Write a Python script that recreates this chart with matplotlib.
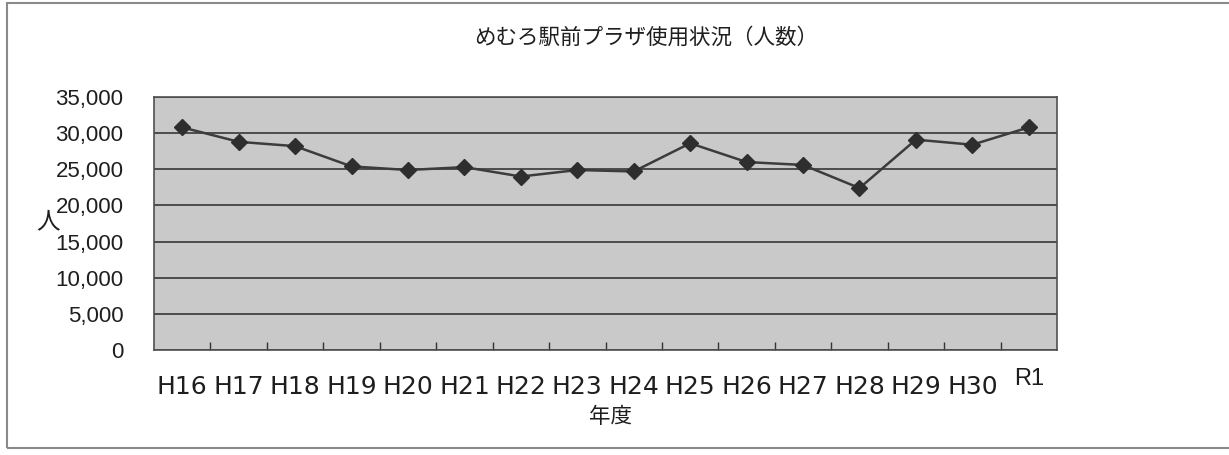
import numpy as np
import matplotlib
matplotlib.use("Agg")
import matplotlib.pyplot as plt
from matplotlib.patches import Rectangle
from matplotlib.ticker import FuncFormatter, FixedLocator
from matplotlib.transforms import ScaledTranslation

# 年度別の利用人数
years = ["H16", "H17", "H18", "H19", "H20", "H21", "H22", "H23",
         "H24", "H25", "H26", "H27", "H28", "H29", "H30", "R1"]
visitors = [30800, 28800, 28200, 25400, 24900, 25300, 24000, 24900,
            24700, 28600, 26000, 25600, 22400, 29100, 28400, 30800]
y_ticks = [0, 5000, 10000, 15000, 20000, 25000, 30000, 35000]

title = "めむろ駅前プラザ使用状況（人数）"
x_title = "年度"
y_title = "人"

W, H = 1229, 455
fig = plt.figure(figsize=(W / 100, H / 100), dpi=100)
fig.patch.set_facecolor("white")

jp = ["Noto Sans CJK JP", "DejaVu Sans"]
txt = "#1e1e1e"

# outer chart frame
fig.patches.append(Rectangle((7 / W, 1 - 448 / H), 1.2, (448 - 3) / H,
                             transform=fig.transFigure, fill=False,
                             edgecolor="#8a8a8a", linewidth=1.5))

left, right, top, bottom = 154, 1057, 97, 350
ax = fig.add_axes([left / W, 1 - bottom / H, (right - left) / W, (bottom - top) / H])
ax.set_facecolor("#c9c9c9")

x = np.arange(len(years))
ax.plot(x, visitors, color="#3c3c3c", linewidth=1.8, marker="D",
        markersize=8.5, markerfacecolor="#2e2e2e", markeredgecolor="#2e2e2e",
        zorder=3)

ax.set_xlim(-0.5, len(years) - 0.5)
ax.set_ylim(y_ticks[0], y_ticks[-1])
ax.set_yticks(y_ticks)
ax.yaxis.set_major_formatter(FuncFormatter(lambda v, p: f"{int(v):,}"))
ax.yaxis.grid(True, color="#2a2a2a", linewidth=1.1)
ax.set_axisbelow(True)

ax.set_xticks(x)
ax.set_xticklabels(years)
ax.xaxis.set_minor_locator(FixedLocator(np.arange(0.5, len(years) - 1, 1.0)))
ax.tick_params(axis="x", which="major", length=0, pad=18, labelsize=18,
               labelcolor=txt)
ax.tick_params(axis="x", which="minor", direction="in", length=6,
               width=1.0, color="#333333")
ax.tick_params(axis="y", length=0, pad=22, labelsize=16, labelcolor=txt)
for lab in ax.get_yticklabels():
    lab.set_fontfamily("Liberation Sans")
for lab in ax.get_xticklabels():
    lab.set_fontfamily("DejaVu Sans")
r1 = ax.get_xticklabels()[-1]
r1.set_fontfamily("Liberation Sans")
r1.set_fontsize(17)
r1.set_transform(r1.get_transform() + ScaledTranslation(0, 5 / 72, fig.dpi_scale_trans))

for s in ax.spines.values():
    s.set_color("#505050")
    s.set_linewidth(1.2)

fig.text(646 / W, 1 - 38 / H, title, ha="center", va="center",
         fontsize=15.5, family=jp, color=txt)
fig.text(48 / W, 1 - 222 / H, y_title, ha="center", va="center",
         fontsize=17, family=jp, color=txt)
fig.text(610 / W, 1 - 417 / H, x_title, ha="center", va="center",
         fontsize=15.5, family=jp, color=txt)

fig.savefig("out.png", dpi=100, facecolor="white")
